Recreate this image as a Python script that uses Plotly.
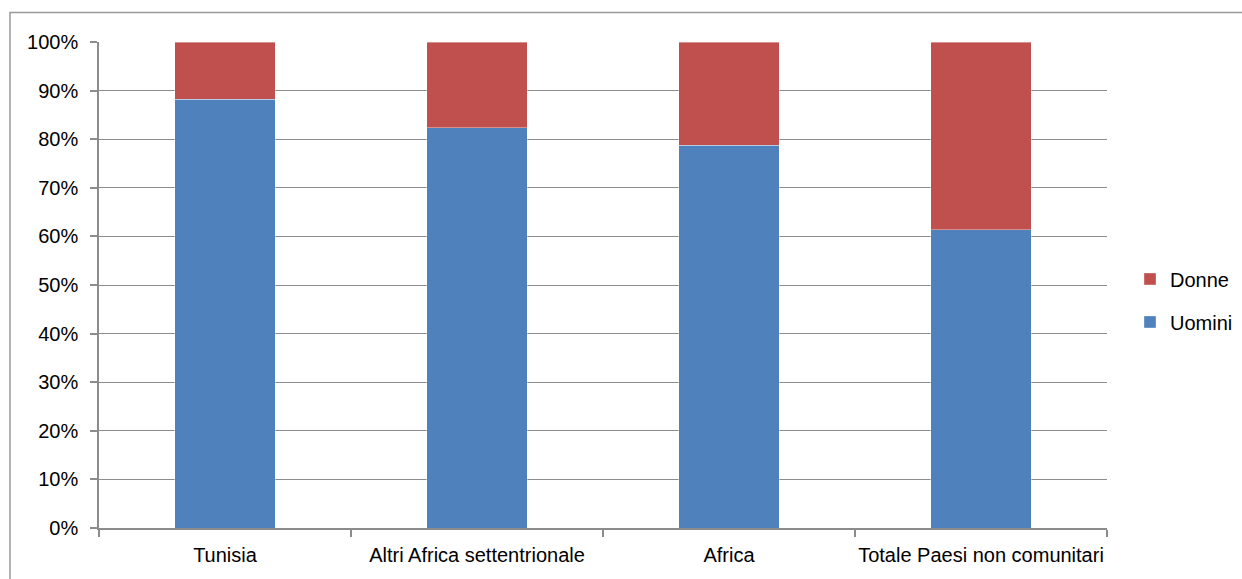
import plotly.graph_objects as go

# Share of men and women by area of origin (%)
categories = ["Tunisia", "Altri Africa settentrionale", "Africa", "Totale Paesi non comunitari"]
uomini = [88.2, 82.4, 78.8, 61.4]
donne = [11.8, 17.6, 21.2, 38.6]
y_ticks = [0, 10, 20, 30, 40, 50, 60, 70, 80, 90, 100]

BLUE = "#4F81BD"
RED = "#C0504D"
GRID = "#8C8C8C"
FONT = "Liberation Sans, Arial, sans-serif"
FS = 20

W, H = 1242, 579
L, R, T, B = 99, 135, 41.5, 50.5
PW, PH = W - L - R, H - T - B

fig = go.Figure()
fig.add_trace(go.Bar(
    x=categories, y=uomini, name="Uomini", legendgroup="u", legendrank=2,
    marker=dict(color=BLUE, line=dict(color="rgba(255,255,255,0.45)", width=0.8)),
))
fig.add_trace(go.Bar(
    x=categories, y=donne, name="Donne", legendgroup="d", legendrank=1,
    marker=dict(color=RED, line=dict(color="rgba(255,255,255,0.45)", width=0.8)),
))

# outer frame of the chart area
fig.add_shape(
    type="rect", xref="paper", yref="paper", layer="above",
    x0=(10 - L) / PW, x1=(1260 - L) / PW,
    y0=(H - B - 600) / PH, y1=(H - B - 12) / PH,
    line=dict(color="#9A9A9A", width=1.5), fillcolor="rgba(0,0,0,0)",
)

fig.update_layout(
    width=W, height=H,
    margin=dict(l=L, r=R, t=T, b=B, pad=0, autoexpand=False),
    paper_bgcolor="white", plot_bgcolor="white",
    barmode="stack", bargap=0.6,
    font=dict(family=FONT, size=FS, color="#000000"),
    showlegend=True,
    legend=dict(
        x=(1130 - L) / PW, xanchor="left",
        y=(H - B - 300.5) / PH, yanchor="middle",
        traceorder="grouped", tracegroupgap=14,
        font=dict(family=FONT, size=FS, color="#000000"),
        bgcolor="rgba(0,0,0,0)", borderwidth=0,
    ),
    xaxis=dict(
        type="category", showgrid=False, zeroline=False, automargin=False,
        showline=True, linecolor=GRID, linewidth=1.5,
        ticks="outside", tickson="boundaries", ticklen=7, tickwidth=1.5, tickcolor=GRID,
        tickangle=0, ticklabelstandoff=8,
        tickfont=dict(family=FONT, size=FS, color="#000000"),
    ),
    yaxis=dict(
        range=[0, 100], tickvals=y_ticks, ticktext=[f"{v}%" for v in y_ticks],
        showgrid=True, gridcolor=GRID, gridwidth=1.3, zeroline=False, automargin=False,
        showline=True, linecolor=GRID, linewidth=1.5,
        ticks="outside", ticklen=7, tickwidth=1.5, tickcolor=GRID,
        ticklabelstandoff=8,
        tickfont=dict(family=FONT, size=FS, color="#000000"),
    ),
)

fig.write_html("out.html")
